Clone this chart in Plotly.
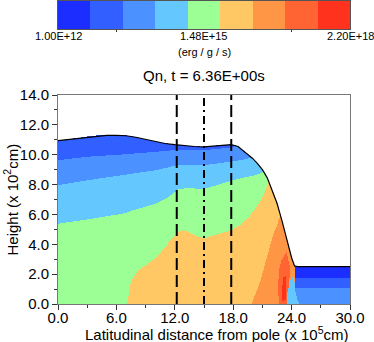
import numpy as np
import plotly.graph_objects as go

# ---------------- data ----------------
band_colors = ["#1c2eff", "#325fff", "#4b91ff", "#64c8ff", "#9bff96",
               "#ffc864", "#ff9646", "#ff6432", "#ff321e"]
cbar_tick_vals = [1.00e12, 1.48e15, 2.20e18]
cbar_tick_text = ["1.00E+12", "1.48E+15", "2.20E+18"]

# free surface height (x 10^2 cm) vs latitudinal distance (x 10^5 cm)
surface_x = [0, 1, 2, 3, 4, 5, 6, 7, 8, 9, 10, 11, 12, 13, 14, 15, 16, 17, 17.8,
             18.5, 19.0, 19.5, 20.0, 20.5, 21.0, 21.5, 22.0, 22.5, 23.0, 23.5, 24.0,
             24.3, 24.6, 30.0]
surface_h = [10.95, 11.02, 11.1, 11.2, 11.27, 11.3, 11.3, 11.27, 11.17, 11.02, 10.87,
             10.75, 10.67, 10.6, 10.55, 10.52, 10.58, 10.65, 10.67,
             10.55, 10.3, 10.05, 9.75, 9.4, 9.0, 8.45, 7.65, 6.75, 5.6, 4.35, 3.1,
             2.55, 2.5, 2.5]

# contour-band boundaries (height vs x)
b12_x = [0, 3, 6.6, 10, 12, 15, 17.6, 18.5, 20]
b12_h = [9.62, 9.85, 10.0, 10.18, 10.29, 10.29, 10.45, 10.6, 11.0]
b23_x = [0, 3, 6.6, 10, 12, 13, 15, 17.6, 19, 20, 21]
b23_h = [7.95, 8.28, 8.62, 8.95, 9.25, 9.3, 9.29, 9.51, 9.65, 9.8, 10.5]
b34_x = [0, 3, 6.6, 10, 11.4, 12.4, 13.4, 14.9, 16.3, 17.6, 19, 20.3, 21, 22]
b34_h = [5.38, 5.67, 6.05, 6.72, 7.17, 7.68, 7.77, 7.68, 7.95, 8.22, 8.45, 8.62, 8.8, 9.5]
b45_x = [0, 7.0, 7.05, 7.4, 8.25, 9.97, 11.3, 12.36, 12.9, 14.0, 15.0, 16.65, 17.8,
         18.7, 19.7, 20.8, 21.3, 21.6, 22.0]
b45_h = [-1, -1, 0.0, 1.38, 2.28, 3.06, 4.06, 4.84, 4.96, 4.62, 4.4, 4.73, 4.96,
         5.3, 5.85, 6.9, 7.6, 8.2, 9.0]
# left edge of the orange (band 6) zone, x vs height
b56_h = [0, 1.6, 3.17, 4.73, 5.5, 6.0]
b56_x = [19.9, 20.8, 21.45, 22.1, 22.6, 23.0]
# shelf region to the right of the front
shelf_x = [24.35, 30.0]
shelf_b01 = [1.8, 1.75]
shelf_b12 = [1.1, 1.1]
# small zones near the front
zone7_x = [22.75, 22.65, 22.75, 23.0, 23.5, 23.84, 23.77, 23.5]
zone7_h = [0.0, 1.16, 2.28, 2.95, 3.5, 2.5, 1.16, 0.0]
zone8_x = [23.0, 23.05, 23.2, 23.4, 23.5, 23.45]
zone8_h = [0.2, 1.0, 1.8, 1.9, 1.2, 0.3]
zone3_x = [23.5, 23.6, 23.85, 24.25, 24.35, 24.6, 24.8]
zone3_h = [0.0, 0.8, 1.6, 2.0, 1.0, 0.3, 0.0]

# reference lines
dashed_x = [12.2, 17.8]
dashdot_x = [15.0]

x_ticks = [0, 6, 12, 18, 24, 30]
y_ticks = [0, 2, 4, 6, 8, 10, 12, 14]

# ---------------- field ----------------
xg = np.linspace(0, 30, 301)
yg = np.linspace(0, 14, 211)
X, Y = np.meshgrid(xg, yg)


def in_poly(X, Y, px, py):
    inside = np.zeros(X.shape, bool)
    n = len(px)
    j = n - 1
    for i in range(n):
        xi, yi, xj, yj = px[i], py[i], px[j], py[j]
        cond = ((yi > Y) != (yj > Y)) & (X < (xj - xi) * (Y - yi) / ((yj - yi) if yj != yi else 1e-12) + xi)
        inside ^= cond
        j = i
    return inside


Z = np.full(X.shape, 5.0)
Z[Y > np.interp(X, b45_x, b45_h)] = 4
Z[Y > np.interp(X, b34_x, b34_h)] = 3
Z[Y > np.interp(X, b23_x, b23_h)] = 2
Z[Y > np.interp(X, b12_x, b12_h)] = 1
Z[(X > np.interp(Y, b56_h, b56_x)) & (Y <= b56_h[-1])] = 6
shelf = X >= shelf_x[0]
Z[shelf] = 2
Z[shelf & (Y > np.interp(X, shelf_x, shelf_b12))] = 1
Z[shelf & (Y > np.interp(X, shelf_x, shelf_b01))] = 0
Z[in_poly(X, Y, zone7_x, zone7_h)] = 7
Z[in_poly(X, Y, zone8_x, zone8_h)] = 8
Z[in_poly(X, Y, zone3_x, zone3_h)] = 3
Z[Y > np.interp(X, surface_x, surface_h)] = np.nan

n = len(band_colors)
cscale = []
for i, c in enumerate(band_colors):
    cscale.append([i / n, c])
    cscale.append([(i + 1) / n, c])

fig = go.Figure()
fig.add_trace(go.Heatmap(x=xg, y=yg, z=Z, colorscale=cscale, zmin=-0.5, zmax=n - 0.5,
                         showscale=False, hoverinfo="skip"))
fig.add_trace(go.Scatter(x=surface_x, y=surface_h, mode="lines",
                         line=dict(color="black", width=1.2), showlegend=False))
for xv in dashed_x:
    fig.add_trace(go.Scatter(x=[xv, xv], y=[0, 14], mode="lines",
                             line=dict(color="black", width=2, dash="12px,5px"),
                             showlegend=False))
for xv in dashdot_x:
    fig.add_trace(go.Scatter(x=[xv, xv], y=[0, 14], mode="lines",
                             line=dict(color="black", width=2, dash="8px,4px,2px,4px"),
                             showlegend=False))

# colour bar as a log-spaced strip
lo, hi = np.log10(cbar_tick_vals[0]), np.log10(cbar_tick_vals[-1])
edges = np.linspace(lo, hi, n + 1)
fig.add_trace(go.Heatmap(x=edges, y=[0, 1], z=[list(range(n))], colorscale=cscale,
                         zmin=-0.5, zmax=n - 0.5, showscale=False, xaxis="x2", yaxis="y2",
                         hoverinfo="skip"))

font = "Liberation Sans, Arial, sans-serif"
main_top = 209 / 304
cbar_label_y = (304 - 36) / 304
annotations = []
for v, t in zip(cbar_tick_vals, cbar_tick_text):
    annotations.append(dict(text=t, x=(np.log10(v) - lo) / (hi - lo), y=cbar_label_y,
                            xref="paper", yref="paper", showarrow=False,
                            font=dict(size=11), xanchor="center", yanchor="middle"))
annotations += [
    dict(text="(erg / g / s)", x=0.5, y=(304 - 52) / 304, xref="paper", yref="paper",
         showarrow=False, font=dict(size=11), xanchor="center", yanchor="middle"),
    dict(text="Qn, t = 6.36E+00s", x=0.5, y=(304 - 75) / 304, xref="paper",
         yref="paper", showarrow=False, font=dict(size=15), xanchor="center",
         yanchor="middle"),
    dict(text="Height (x 10<sup>2</sup>cm)", x=(11 - 58) / 292, y=main_top / 2,
         xref="paper", yref="paper", showarrow=False, textangle=-90,
         font=dict(size=15), xanchor="center", yanchor="middle"),
    dict(text="Latitudinal distance from pole (x 10<sup>5</sup>cm)", x=(216 - 58) / 292,
         y=(304 - 333) / 304, xref="paper", yref="paper", showarrow=False,
         font=dict(size=15), xanchor="center", yanchor="middle"),
]

fig.update_layout(
    width=374, height=342,
    margin=dict(l=58, r=24, t=0, b=38, autoexpand=False),
    paper_bgcolor="white", plot_bgcolor="white",
    font=dict(family=font, size=15, color="black"),
    showlegend=False,
    xaxis=dict(domain=[0, 1], range=[0, 30], tickvals=x_ticks, automargin=False,
               ticktext=[f"{v:.1f}" for v in x_ticks], ticks="outside", ticklen=5,
               ticklabelstandoff=-5,
               tickcolor="#333", showline=True, mirror=True, linecolor="#777",
               showgrid=False, zeroline=False,
               minor=dict(dtick=3, ticks="outside", ticklen=3, tickcolor="#333")),
    yaxis=dict(domain=[0, main_top], range=[0, 14], tickvals=y_ticks, automargin=False,
               ticktext=[f"{v:.1f}" for v in y_ticks], ticks="outside", ticklen=5,
               tickcolor="#333", showline=True, mirror=True, linecolor="#777",
               showgrid=False, zeroline=False,
               minor=dict(dtick=1, ticks="outside", ticklen=3, tickcolor="#333")),
    xaxis2=dict(domain=[0, 1], anchor="y2", range=[lo, hi], automargin=False,
                tickvals=[lo + 0.2 * (hi - lo), lo + 0.8 * (hi - lo)],
                showticklabels=False, ticks="outside", ticklen=2,
                tickcolor="#333",
                showline=True, mirror=True, linecolor="#555", showgrid=False,
                zeroline=False),
    yaxis2=dict(domain=[(304 - 29) / 304, (304 - 1) / 304], anchor="x2", range=[0, 1],
                automargin=False,
                showticklabels=False, ticks="", showline=True, mirror=True,
                linecolor="#555", showgrid=False, zeroline=False),
    annotations=annotations,
)

fig.write_html("out.html", config={"displayModeBar": False},
               post_script="document.body.style.margin='0';document.body.style.padding='0';")
